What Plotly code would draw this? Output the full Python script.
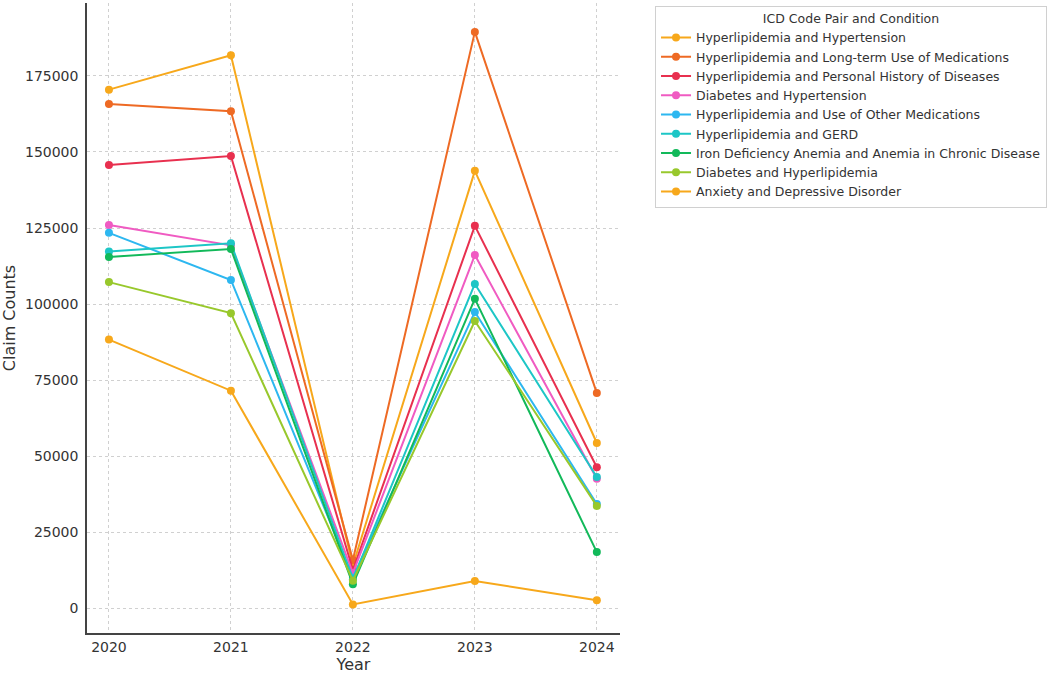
import plotly.graph_objects as go

years = [2020, 2021, 2022, 2023, 2024]

series_names = [
    "Hyperlipidemia and Hypertension",
    "Hyperlipidemia and Long-term Use of Medications",
    "Hyperlipidemia and Personal History of Diseases",
    "Diabetes and Hypertension",
    "Hyperlipidemia and Use of Other Medications",
    "Hyperlipidemia and GERD",
    "Iron Deficiency Anemia and Anemia in Chronic Disease",
    "Diabetes and Hyperlipidemia",
    "Anxiety and Depressive Disorder",
]

hyperlipidemia_hypertension = [170500, 181800, 14000, 143800, 54300]
hyperlipidemia_longterm_meds = [165800, 163400, 15800, 189500, 70700]
hyperlipidemia_personal_history = [145700, 148700, 12500, 125700, 46300]
diabetes_hypertension = [126000, 119300, 11500, 116100, 42500]
hyperlipidemia_other_meds = [123400, 107900, 10000, 97400, 34200]
hyperlipidemia_gerd = [117300, 120000, 9500, 106600, 43100]
iron_deficiency_anemia = [115500, 118100, 7800, 101700, 18400]
diabetes_hyperlipidemia = [107200, 97000, 9000, 94400, 33600]
anxiety_depressive = [88300, 71500, 1200, 8900, 2600]

series_values = [
    hyperlipidemia_hypertension,
    hyperlipidemia_longterm_meds,
    hyperlipidemia_personal_history,
    diabetes_hypertension,
    hyperlipidemia_other_meds,
    hyperlipidemia_gerd,
    iron_deficiency_anemia,
    diabetes_hyperlipidemia,
    anxiety_depressive,
]

colors = [
    "#F7A81B", "#EE6A24", "#E8304F", "#F05BC2", "#2DB7F0",
    "#1DC6C6", "#12B95A", "#98C82C", "#F7A81B",
]

y_ticks = [0, 25000, 50000, 75000, 100000, 125000, 150000, 175000]

fig = go.Figure()
for name, vals, col in zip(series_names, series_values, colors):
    fig.add_trace(go.Scatter(
        x=years, y=vals, name=name, mode="lines+markers",
        line=dict(color=col, width=2),
        marker=dict(color=col, size=8),
    ))

fig.update_layout(
    width=1049, height=674,
    paper_bgcolor="white", plot_bgcolor="white",
    font=dict(family="DejaVu Sans", color="#333333", size=14),
    margin=dict(l=87, r=429, t=3, b=41, autoexpand=False),
    legend=dict(
        title=dict(text="ICD Code Pair and Condition", side="top center",
                   font=dict(size=12.5, color="#333333")),
        x=1.0657, xanchor="left", y=0.996, yanchor="top",
        bordercolor="#d0d0d0", borderwidth=1, bgcolor="white",
        font=dict(size=12.5, color="#333333"),
        tracegroupgap=0, itemwidth=30,
    ),
    xaxis=dict(
        range=[2019.82, 2024.19], tickvals=years, ticktext=[str(y) for y in years],
        showgrid=True, gridcolor="#d0d0d0", griddash="dot", gridwidth=1,
        showline=True, linecolor="#444444", linewidth=1.5,
        ticks="", ticklabelstandoff=0,
        title=dict(text="Year", font=dict(size=16), standoff=4),
        zeroline=False, tickfont=dict(size=14), automargin=False,
    ),
    yaxis=dict(
        range=[-8200, 199000], tickvals=y_ticks, ticktext=[str(v) for v in y_ticks],
        showgrid=True, gridcolor="#d0d0d0", griddash="dot", gridwidth=1,
        showline=True, linecolor="#444444", linewidth=1.5,
        ticks="", ticklabelstandoff=4,
        title=dict(text="Claim Counts", font=dict(size=16), standoff=8),
        zeroline=False, tickfont=dict(size=14), automargin=False,
    ),
)

fig.write_html("out.html", config={"displayModeBar": False},
               post_script="document.body.style.margin='0';")
